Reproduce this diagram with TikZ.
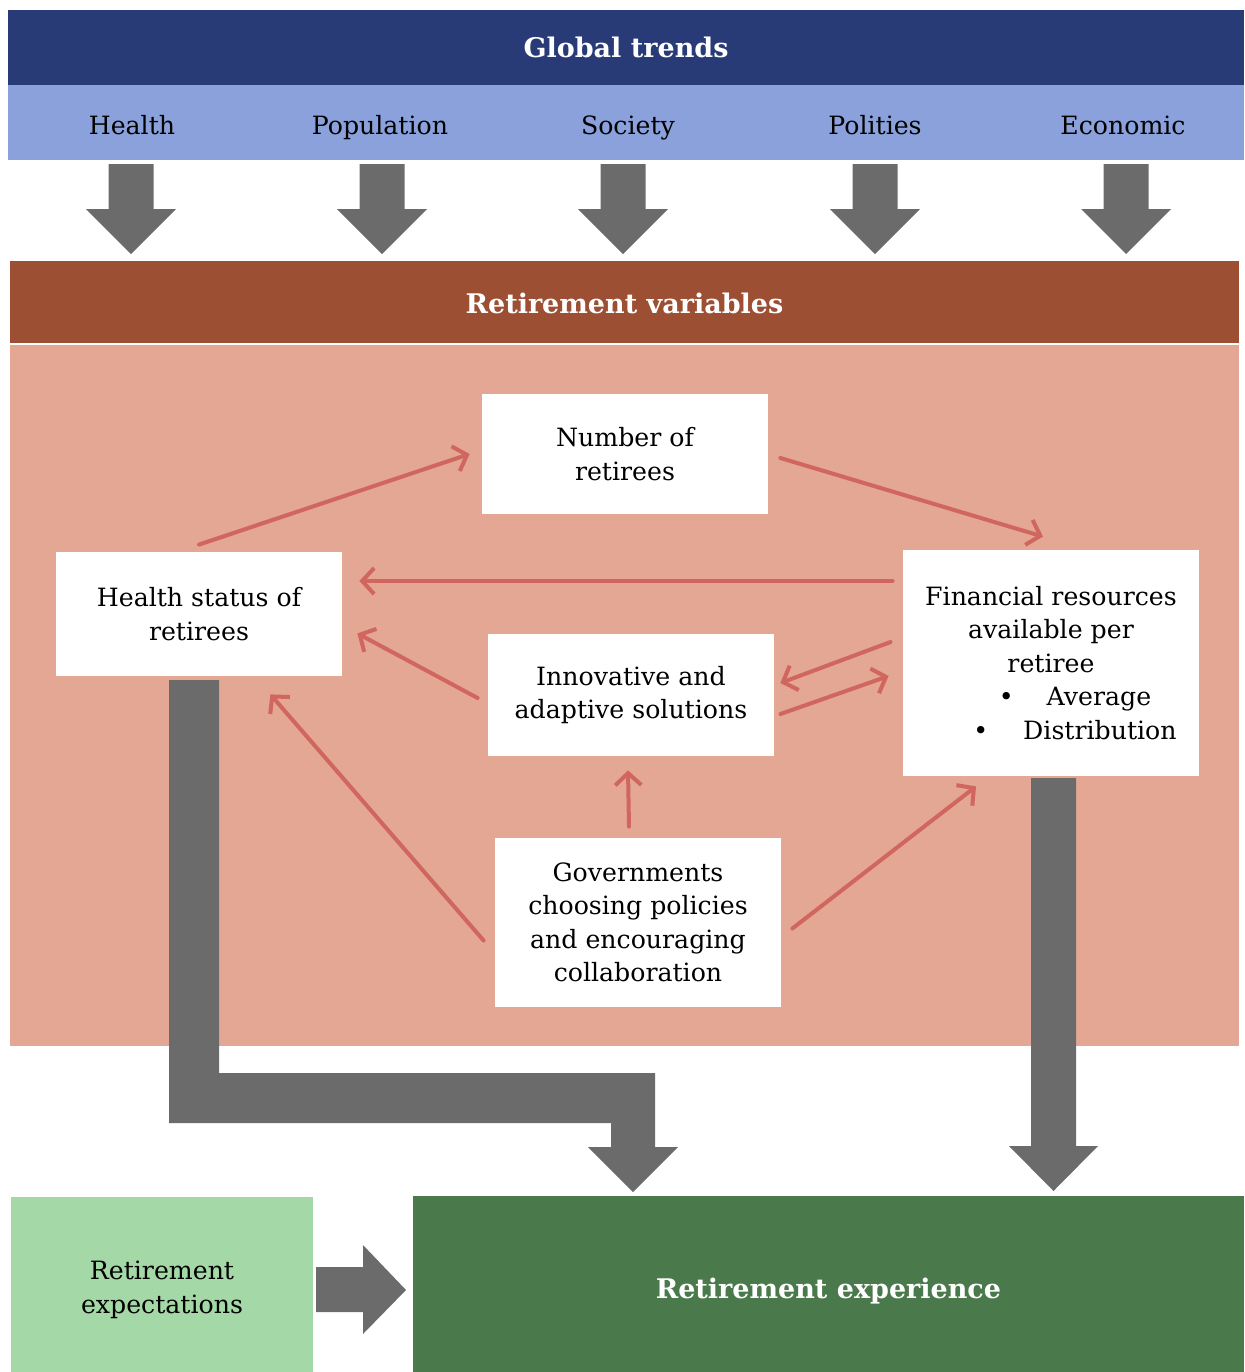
\documentclass[tikz,border=0pt]{standalone}
\usepackage{fontspec}
\setmainfont{DejaVu Serif}
\usetikzlibrary{arrows.meta}
\definecolor{navyc}{HTML}{283B77}
\definecolor{lblue}{HTML}{8BA1DB}
\definecolor{rustc}{HTML}{9C4F33}
\definecolor{pinkc}{HTML}{E3A794}
\definecolor{redc}{HTML}{D0665E}
\definecolor{grayc}{HTML}{6B6B6B}
\definecolor{lgreen}{HTML}{A4D8A6}
\definecolor{dgreen}{HTML}{4A7A4B}
\newcommand\bodyfnt{\fontsize{12.6}{16.75}\selectfont}
\newcommand\headfnt{\fontsize{13.5}{16.75}\selectfont\bfseries}
\begin{document}
\begin{tikzpicture}[x=0.5pt,y=-0.5pt,
  band/.style={draw=none, inner sep=0pt, align=center},
  box/.style={draw=none, fill=white, inner sep=0pt, align=center, font=\bodyfnt, minimum width=143pt},
  lbl/.style={inner sep=0pt, align=center, font=\bodyfnt},
  redarrow/.style={draw=redc, line width=2pt, line cap=round, -{Straight Barb[length=6pt,width=13pt,line width=2pt]}},
  bigdown/.pic={\fill[grayc] (-22.5,0) -- (22.5,0) -- (22.5,45) -- (45,45) -- (0,90) -- (-45,45) -- (-22.5,45) -- cycle;}]
\useasboundingbox (0,0) rectangle (1244,1372);
% top bands
\node[band, fill=navyc, minimum width=618pt, minimum height=37.5pt] (global) at (626,47.5) {};
\node[lbl, text=white, font=\headfnt, anchor=base] (global-t) at (626,57) {Global trends};
\node[band, fill=lblue, minimum width=618pt, minimum height=37.5pt] (trends) at (626,122.5) {};
\node[lbl, anchor=base] (health-t) at (132,134) {Health};
\node[lbl, anchor=base] (pop-t) at (380,134) {Population};
\node[lbl, anchor=base] (soc-t) at (628,134) {Society};
\node[lbl, anchor=base] (pol-t) at (875,134) {Polities};
\node[lbl, anchor=base] (eco-t) at (1123,134) {Economic};
% down arrows
\foreach \cx in {131,382,623,875,1126} \pic at (\cx,164) {bigdown};
% retirement variables
\node[band, fill=rustc, minimum width=614.5pt, minimum height=41pt] (retvar) at (624.5,302) {};
\node[lbl, text=white, font=\headfnt, anchor=base] (retvar-t) at (624.5,313) {Retirement variables};
\node[band, fill=pinkc, minimum width=614.5pt, minimum height=350.5pt] (area) at (624.5,695.5) {};
% boxes
\node[box, minimum height=60pt] (number) at (625,454) {Number of\\retirees};
\node[box, minimum height=62pt] (health) at (199,614) {Health status of\\retirees};
\node[box, minimum width=148pt, minimum height=113pt] (fin) at (1051,663)
  {Financial resources\\available per\\retiree\\\hspace*{24pt}\textbullet\hspace{16.5pt}Average\\\hspace*{24pt}\textbullet\hspace{17.5pt}Distribution};
\node[box, minimum height=61pt] (innov) at (631,695) {Innovative and\\adaptive solutions};
\node[box, minimum height=84.5pt] (gov) at (638,922.5) {Governments\\choosing policies\\and encouraging\\collaboration};
% red arrows
\draw[redarrow] ([yshift=3.5pt]health.north) -- ([xshift=-6pt]number.west);
\draw[redarrow] ([xshift=6pt,yshift=-2pt]number.east) -- ([xshift=-4pt,yshift=6.5pt]fin.north);
\draw[redarrow] ([xshift=-5pt,yshift=41pt]fin.west) -- ([xshift=8.5pt,yshift=16.5pt]health.east);
\draw[redarrow] ([xshift=-5pt,yshift=-1.5pt]innov.west) -- ([xshift=7.5pt,yshift=21.5pt]health.south east);
\draw[redarrow] ([xshift=-6pt,yshift=10.5pt]fin.west) -- ([xshift=3pt,yshift=6pt]innov.east);
\draw[redarrow] ([xshift=3pt,yshift=-9.5pt]innov.east) -- ([xshift=-7pt,yshift=-6.5pt]fin.west);
\draw[redarrow] ([xshift=-4.5pt,yshift=5.5pt]gov.north) -- ([xshift=-1.5pt,yshift=-7pt]innov.south);
\draw[redarrow] ([xshift=-5.5pt,yshift=-9pt]gov.west) -- ([xshift=-36pt,yshift=-9pt]health.south east);
\draw[redarrow] ([xshift=5.5pt,yshift=-3pt]gov.east) -- ([xshift=-37.5pt,yshift=-5pt]fin.south);
% big gray arrows
\fill[grayc] (169,680) -- (219,680) -- (219,1073) -- (655,1073) -- (655,1147) -- (678,1147) -- (633,1192) -- (588,1147) -- (611,1147) -- (611,1123) -- (169,1123) -- cycle;
\fill[grayc] (1031,778) -- (1076,778) -- (1076,1146) -- (1098,1146) -- (1053.5,1191) -- (1009,1146) -- (1031,1146) -- cycle;
% bottom
\node[band, fill=lgreen, minimum width=151pt, minimum height=87.5pt] (expect) at (162,1284.5) {};
\node[lbl] (expect-t) at (162,1290) {Retirement\\expectations};
\node[band, fill=dgreen, minimum width=415.5pt, minimum height=88pt] (exper) at (828.5,1284) {};
\node[lbl, text=white, font=\headfnt, anchor=base] (exper-t) at (828.5,1298) {Retirement experience};
\fill[grayc] (316,1267) -- (363,1267) -- (363,1245) -- (406,1290) -- (363,1334) -- (363,1312) -- (316,1312) -- cycle;
\end{tikzpicture}
\end{document}
